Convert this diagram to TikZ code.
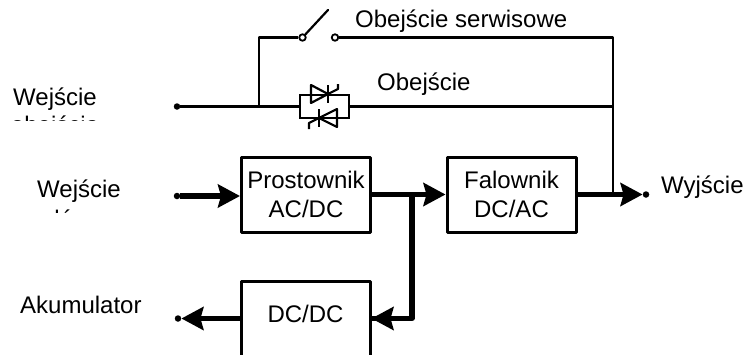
\documentclass[tikz,border=0pt]{standalone}
\usepackage{fontspec}
\setmainfont{Liberation Sans}
\usetikzlibrary{arrows.meta}
\tikzset{
  opis/.style={font=\fontsize{24}{28.5}\selectfont, inner sep=0pt, align=center},
  blok/.style={opis, draw=black, line width=3pt, minimum width=129pt, minimum height=75pt, line join=round},
  punkt/.style={circle, fill=black, inner sep=0pt, minimum size=6.5pt},
  styk/.style={circle, draw=black, fill=white, line width=1.8pt, inner sep=0pt, minimum size=6.5pt},
  cienka/.style={black, line width=2.2pt, line join=round},
  gruba/.style={black, line width=5.2pt, line join=round},
  strzalka/.style={gruba, -{Stealth[length=22pt,width=23pt,inset=3pt]}},
}
\begin{document}
\begin{tikzpicture}[x=1pt,y=-1pt]
\clip (0,0) rectangle (745,354);
\fill[white] (0,0) rectangle (745,354);

\node[blok] (prost) at (306,194.5) {Prostownik\\AC/DC};
\node[blok] (fal) at (511.5,194.5) {Falownik\\DC/AC};
\node[blok, text height=17.4pt, text depth=9pt] (dcdc) at (305.5,318.5) {DC/DC};

\node[punkt] (wejob) at (177,106.5) {};
\node[punkt] (wej) at (177,196) {};
\node[punkt] (aku) at (178,318.5) {};
\node[punkt] (wyj) at (646,194.5) {};

\node[styk] (sl) at (302.5,37.5) {};
\node[styk] (sp) at (335,37.5) {};
\node[draw=black, line width=2pt, minimum width=49pt, minimum height=23.5pt, inner sep=0pt] (tyr) at (324.5,106.5) {};

\coordinate (rozg) at (259,106.5);
\coordinate (zbieg) at (613,194.5);
\coordinate (odcz) at (412,194.5);

\draw[cienka] (wejob) -- (tyr);
\draw[cienka] (tyr) -- (613,106.5);
\draw[cienka] (rozg) |- (sl);
\draw[cienka] (sp) -| (zbieg);
\draw[cienka, line cap=round] (sl) -- (328,10);

\draw[cienka] (311,85) -- (311,103) -- (328,94) -- cycle;
\draw[cienka] (328,85) -- (328,103);
\draw[cienka] (328,94) -- (338,89) -- (338,84);
\draw[cienka] (337,109) -- (337,127) -- (319,118) -- cycle;
\draw[cienka] (319,109) -- (319,127);
\draw[cienka] (319,118) -- (309,123) -- (309,129);

\draw[strzalka] (wej) -- (wej -| prost.west);
\draw[strzalka] (prost) -- (fal);
\draw[strzalka] (fal) -- (wyj);
\draw[gruba] (odcz) |- (dcdc.east);
\draw[strzalka] (412,318.5) -- (dcdc.east);
\draw[strzalka] (dcdc) -- (aku);

\node[opis, anchor=base west] (serw) at (355,27) {Obejście serwisowe};
\node[opis, anchor=base west] (obej) at (377,90) {Obejście};
\node[opis, anchor=base west] (wyjt) at (661,193) {Wyjście};
\node[opis, anchor=base west] (akut) at (20,313) {Akumulator};

\begin{scope}
\clip (0,80) rectangle (170,120.5);
\node[opis, anchor=base] (wejobt) at (55,133.5) {Wejście\\obejścia};
\end{scope}
\begin{scope}
\clip (0,170) rectangle (170,212.5);
\node[opis, anchor=base] (wejt) at (79,227) {Wejście\\[1.5pt]główne};
\end{scope}
\end{tikzpicture}
\end{document}
